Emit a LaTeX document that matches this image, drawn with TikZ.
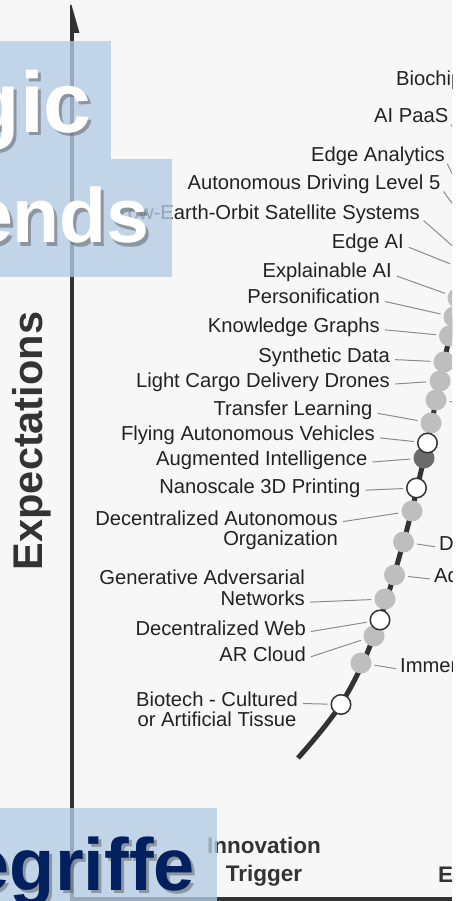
\documentclass[tikz,border=0pt]{standalone}
\usepackage{fontspec}
\setmainfont{Liberation Sans}
\definecolor{bg}{HTML}{F7F7F7}
\definecolor{ink}{HTML}{222222}
\definecolor{axis}{HTML}{333333}
\definecolor{lead}{HTML}{8C8C8C}
\definecolor{dotgray}{HTML}{BEBEBE}
\definecolor{dotdark}{HTML}{6B6B6B}
\definecolor{boxblue}{HTML}{B4CBE3}
\definecolor{navy}{HTML}{002060}
\tikzset{
  lbl/.style={font=\fontsize{20.2}{18}\selectfont, text=ink, inner sep=0pt, anchor=base east},
  rlbl/.style={lbl, anchor=base west},
  phase/.style={font=\fontsize{22.5}{28.5}\selectfont\bfseries, text=axis, inner sep=0pt},
  tech/.style={circle, fill=dotgray, minimum size=21pt, inner sep=0pt},
  techo/.style={tech, fill=white, draw=axis, line width=1.5pt, minimum size=19.5pt},
  techd/.style={tech, fill=dotdark},
  leader/.style={draw=lead, line width=1pt, shorten <=5pt, shorten >=3pt},
  bluebox/.style={fill=boxblue, fill opacity=.78, draw=none},
  bigword/.style={font=\fontsize{#1}{#1}\selectfont\bfseries, inner sep=0pt, anchor=base east},
}
\begin{document}
\begin{tikzpicture}[x=1pt,y=-1pt]
\useasboundingbox (0,0) rectangle (459,901);
\fill[white] (0,0) rectangle (459,901);
\begin{scope}
\clip (0,0) rectangle (452,901);
\fill[bg] (0,0) rectangle (452,901);

\draw[axis, line width=5pt] plot[smooth, tension=.6] coordinates {(298,758) (341,704) (374,636) (403.5,542) (424,458) (444,362) (458,298) (468,230) (476,160) (482,100)};

% technologies on the curve
\node[tech] (pbiochip) at (482,120) {};
\node[tech] (paipaas) at (476,165) {};
\node[tech] (pedgean) at (468,205) {};
\node[tech] (pautodrv) at (470,228) {};
\node[tech] (pleosat) at (465,257) {};
\node[tech] (pedgeai) at (463,269) {};
\node[tech] (pxai) at (458,298) {};
\node[tech] (pperson) at (454,317) {};
\node[tech] (pkgraph) at (449.5,336) {};
\node[tech] (psynth) at (444,362) {};
\node[tech] (pcargo) at (440,381) {};
\node[tech] (pside) at (436,400) {};
\node[tech] (ptransfer) at (431,423) {};
\node[tech] (pdao) at (412,511) {};
\node[tech] (pdright) at (403.5,542) {};
\node[tech] (padright) at (394.5,575) {};
\node[tech] (pgan) at (385,599) {};
\node[tech] (parcloud) at (374,636) {};
\node[tech] (pimmer) at (361,663) {};
\node[techd] (paugint) at (424,458) {};
\node[techo] (pflying) at (427.5,443) {};
\node[techo] (pnano) at (416.5,488) {};
\node[techo] (pdecweb) at (380,620) {};
\node[techo] (pbiotech) at (341,704.5) {};
\coordinate (sidetail) at (480,405);

\node[rlbl] (biochip) at (396,86) {Biochip};
\node[lbl] (aipaas) at (448.5,123) {AI PaaS};
\node[lbl] (edgean) at (445,162) {Edge Analytics};
\node[lbl] (autodrv) at (440.5,190) {Autonomous Driving Level 5};
\node[lbl] (leosat) at (420,220) {Low-Earth-Orbit Satellite Systems};
\node[lbl] (edgeai) at (404,248) {Edge AI};
\node[lbl] (xai) at (392,277) {Explainable AI};
\node[lbl] (person) at (380,303) {Personification};
\node[lbl] (kgraph) at (380,332) {Knowledge Graphs};
\node[lbl] (synth) at (390,362) {Synthetic Data};
\node[lbl] (cargo) at (390,387) {Light Cargo Delivery Drones};
\node[lbl] (transfer) at (372.5,415) {Transfer Learning};
\node[lbl] (flying) at (375,440) {Flying Autonomous Vehicles};
\node[lbl] (augint) at (367.5,465) {Augmented Intelligence};
\node[lbl] (nano) at (360.5,493) {Nanoscale 3D Printing};
\node[lbl] (dao) at (338,525) {\begin{tabular}[t]{@{}r@{}}Decentralized Autonomous\\Organization\end{tabular}};
\node[lbl] (gan) at (305,605) {\begin{tabular}[b]{@{}r@{}}Generative Adversarial\\Networks\end{tabular}};
\node[lbl] (decweb) at (306,635) {Decentralized Web};
\node[lbl] (arcloud) at (306,661) {AR Cloud};
\node[lbl, anchor=base] (biotech) at (217,706) {\begin{tabular}[t]{@{}c@{}}Biotech - Cultured\\or Artificial Tissue\end{tabular}};
\node[rlbl] (dright) at (439,550) {D};
\node[rlbl] (adright) at (434,582) {Ad};
\node[rlbl] (immer) at (400,672) {Immer};

\foreach \t in {biochip,aipaas,edgean,autodrv,leosat,edgeai,xai,person,kgraph,synth,cargo,transfer,flying,augint,nano,dao,gan,decweb,arcloud,biotech}
  \draw[leader] (\t.mid east) -- (p\t);
\foreach \t in {dright,adright,immer}
  \draw[leader, shorten <=3pt, shorten >=4pt] (p\t) -- (\t.mid west);
\draw[leader, shorten <=3pt, shorten >=0pt] (pside) -- (sidetail);

% axes
\draw[axis, line width=4pt] (72,30) -- (72,899) -- (452,899);
\fill[axis] (70,33) -- (70,5) -- (71.5,5) -- (79.5,33) -- cycle;
\node[rotate=90, anchor=base, inner sep=0pt, text=axis, font=\fontsize{41.5}{40}\selectfont\bfseries] (ylabel) at (42,441) {Expectations};
\node[phase, anchor=base] (trigger) at (264,853) {\begin{tabular}[t]{@{}c@{}}Innovation\\Trigger\end{tabular}};
\node[phase, anchor=base west] (peak) at (438,882) {Ex};

% title boxes
\fill[bluebox] (0,41) rectangle (111,159);
\fill[bluebox] (0,159) rectangle (172,277);
\fill[bluebox] (0,808) rectangle (217,901);
\node[bigword=86, text=black!65, text opacity=.5] (gicshadow) at (95,136) {gic};
\node[bigword=86, text=white] (gic) at (92,133) {gic};
\node[bigword=77, text=black!65, text opacity=.5] (endsshadow) at (153,246) {ends};
\node[bigword=77, text=white] (ends) at (150,243) {ends};
\node[bigword=74, text=black!65, text opacity=.5] (begshadow) at (198,893) {egriffe};
\node[bigword=74, text=navy] (beg) at (195,890) {egriffe};
\end{scope}
\end{tikzpicture}
\end{document}
